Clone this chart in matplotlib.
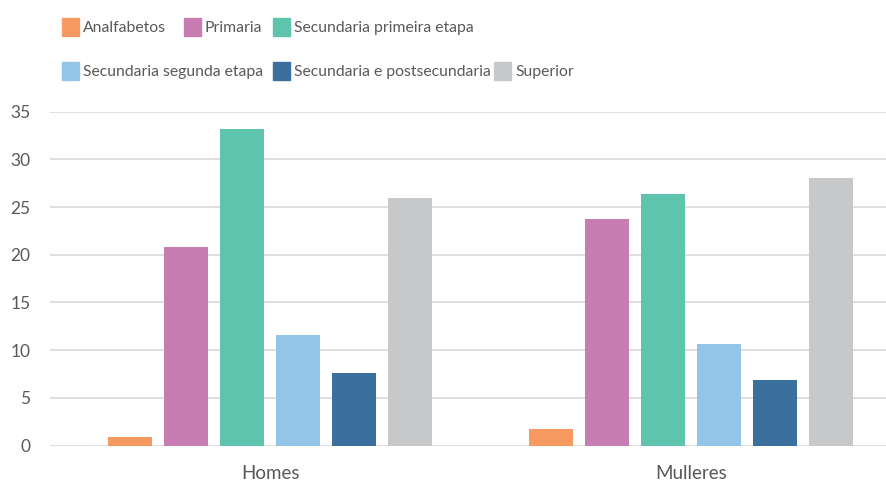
import matplotlib.pyplot as plt
from matplotlib.patches import Rectangle

# data
groups = ["Homes", "Mulleres"]
series = ["Analfabetos", "Primaria", "Secundaria primeira etapa",
          "Secundaria segunda etapa", "Secundaria e postsecundaria", "Superior"]
homes = [0.9, 20.8, 33.2, 11.6, 7.6, 26.0]
mulleres = [1.7, 23.8, 26.4, 10.6, 6.9, 28.0]
colors = ["#F79A62", "#C77CB2", "#5EC4AD", "#93C5E9", "#3A6F9E", "#C7C8CA"]
yticks = [0, 5, 10, 15, 20, 25, 30, 35]

text_color = "#595959"
plt.rcParams['font.family'] = ['Lato', 'DejaVu Sans']

W, H = 886, 483
fig = plt.figure(figsize=(W / 100, H / 100), dpi=100)
ax = fig.add_axes([50 / W, (H - 445.5) / H, (W - 50) / W, (445.5 - 111.7) / H])

width = 0.1045
pitch = 0.133
for i, name in enumerate(series):
    xs = [g + (i - 2.5) * pitch for g in range(len(groups))]
    vals = [homes[i], mulleres[i]]
    ax.bar(xs, vals, width=width, color=colors[i], zorder=3, label=name)

ax.set_xlim(-0.5226, 1.463)
ax.set_ylim(0, 35)
ax.set_yticks(yticks)
ax.set_yticklabels([str(t) for t in yticks], fontsize=12.5, color=text_color)
ax.set_xticks(range(len(groups)))
ax.set_xticklabels(groups, fontsize=13.5, color=text_color)
ax.tick_params(axis='both', length=0)
ax.tick_params(axis='y', pad=14)
ax.tick_params(axis='x', pad=14)
ax.grid(axis='y', color="#D9D9D9", linewidth=1.2, zorder=0)
for s in ax.spines.values():
    s.set_visible(False)

# legend, laid out by hand in two rows
legend_pos = [(62, 27), (184, 27), (273, 27), (62, 71), (273, 71), (494, 71)]
for (px, py), name, c in zip(legend_pos, series, colors):
    fig.add_artist(Rectangle((px / W, (H - py - 8.5) / H), 17 / W, 17 / H,
                             transform=fig.transFigure, color=c))
    fig.text((px + 21) / W, (H - py - 1) / H, name, fontsize=11.3, color=text_color,
             va='center', ha='left')

fig.savefig("out.png", dpi=100)
